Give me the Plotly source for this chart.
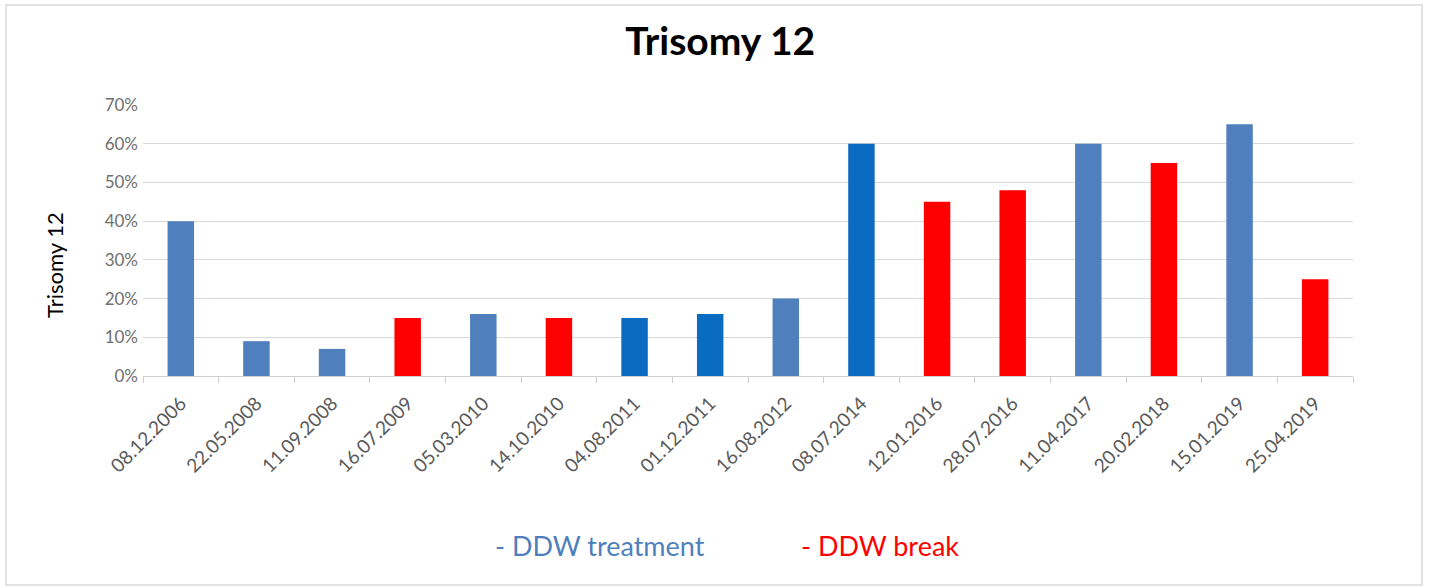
import plotly.graph_objects as go

# Sampling dates and trisomy 12 share (%)
dates = ["08.12.2006", "22.05.2008", "11.09.2008", "16.07.2009", "05.03.2010",
         "14.10.2010", "04.08.2011", "01.12.2011", "16.08.2012", "08.07.2014",
         "12.01.2016", "28.07.2016", "11.04.2017", "20.02.2018", "15.01.2019",
         "25.04.2019"]
trisomy_pct = [40, 9, 7, 15, 16, 15, 15, 16, 20, 60, 45, 48, 60, 55, 65, 25]
phase = ["treatment", "treatment", "treatment", "break", "treatment", "break",
         "treatment", "treatment", "treatment", "treatment", "break", "break",
         "treatment", "break", "treatment", "break"]
y_ticks = [0, 10, 20, 30, 40, 50, 60, 70]

# Bar fills: break in red, treatment in blue (a few samples in a brighter blue)
BLUE = "#4f7fbd"
BRIGHT_BLUE = "#0a6cc0"
RED = "#ff0000"
bright = {"04.08.2011", "01.12.2011", "08.07.2014"}
colors = [RED if p == "break" else (BRIGHT_BLUE if d in bright else BLUE)
          for d, p in zip(dates, phase)]

fig = go.Figure(go.Bar(
    x=dates, y=trisomy_pct, marker=dict(color=colors, line=dict(width=0)),
    width=0.35, showlegend=False,
))

FONT = "Lato, 'Open Sans', sans-serif"
GREY = "#595959"

fig.update_layout(
    width=1429, height=588,
    margin=dict(l=143, r=76, t=105, b=212),
    paper_bgcolor="white", plot_bgcolor="white",
    font=dict(family=FONT, color=GREY),
    title=dict(text="<b>Trisomy 12</b>", x=0.504, xref="container", xanchor="center",
               y=0.929, yref="container", yanchor="middle",
               font=dict(size=39, color="black", family=FONT)),
    xaxis=dict(
        type="category", tickangle=-45, tickfont=dict(size=19, color=GREY),
        showline=True, linecolor="#d0d0d0", linewidth=1,
        ticks="outside", tickson="boundaries", ticklen=6, tickcolor="#d0d0d0",
        ticklabelstandoff=8, showgrid=False,
    ),
    yaxis=dict(
        range=[0, 70], tickvals=y_ticks, ticktext=[f"{v}%" for v in y_ticks],
        tickfont=dict(size=17, color="#6f6f6f"), showgrid=True, gridcolor="#d9d9d9",
        gridwidth=1, zeroline=False, showline=False, ticks="",
        ticklabelstandoff=4,
    ),
    shapes=[dict(type="rect", xref="paper", yref="paper",
                 x0=-0.1132, x1=1.057, y0=-0.771, y1=1.369,
                 line=dict(color="#d9d9d9", width=1.5))],
    annotations=[
        # vertical axis caption
        dict(text="Trisomy 12", x=-0.0727, y=0.41, xref="paper", yref="paper",
             xanchor="center", yanchor="middle", textangle=-90, showarrow=False,
             font=dict(size=22, color="black", family=FONT)),
        dict(text="- DDW treatment", x=0.378, y=-0.624, xref="paper", yref="paper",
             xanchor="center", yanchor="middle", showarrow=False,
             font=dict(size=27, color=BLUE, family=FONT)),
        dict(text="- DDW break", x=0.609, y=-0.624, xref="paper", yref="paper",
             xanchor="center", yanchor="middle", showarrow=False,
             font=dict(size=27, color=RED, family=FONT)),
    ],
)

fig.write_html("out.html")
